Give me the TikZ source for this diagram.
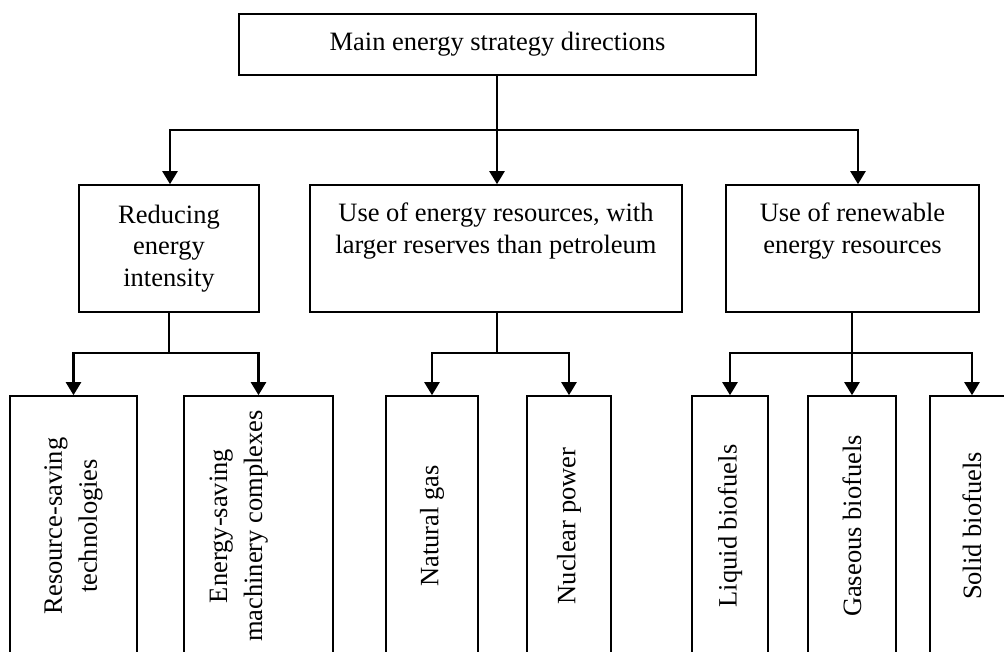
\documentclass[tikz,border=0pt]{standalone}
\usepackage{fontspec}
\setmainfont{Liberation Serif}
\usetikzlibrary{positioning, arrows.meta, calc}
\tikzstyle{box}=[
  rectangle,
  draw=black,
  line width=1.6pt,
  inner sep=0pt,
  align=center,
  font={\fontsize{26.5}{31.5}\selectfont}
]
\tikzstyle{leaf}=[box, rotate=90, minimum width=260pt, font={\fontsize{26.5}{35}\selectfont}]
\tikzstyle{line}=[line width=2.2pt]
\tikzstyle{arr}=[line, -{Triangle[width=15pt,length=13pt]}]

\begin{document}
\begin{tikzpicture}[x=1pt, y=-1pt]

\newcommand\BARY{130}
\newcommand\SUBY{353}
\newcommand\LEAFY{526}

\path[use as bounding box, clip] (0,0) rectangle (1004,651); %% page

\node[box, minimum width=517pt, minimum height=61pt] (main) at (497.5,44.5) {Main energy strategy directions};

%% second row
\node[box, minimum width=180pt, minimum height=127pt] (reduce) at (169,248.5) {Reducing\\energy\\intensity};
\node[box, minimum width=372pt, minimum height=127pt] (reserves) at (496,248.5) {Use of energy resources, with\\larger reserves than petroleum\\\strut};
\node[box, minimum width=253pt, minimum height=127pt] (renew) at (852.5,248.5) {Use of renewable\\energy resources\\\strut};

%% third row
\node[leaf, minimum height=127pt] (tech) at (73.5,\LEAFY) {Resource-saving\\technologies};
\node[leaf, minimum height=149pt] (mach) at (258.5,\LEAFY) {Energy-saving\\machinery complexes\\\strut};
\node[leaf, minimum height=92pt] (gas) at (432,\LEAFY) {Natural gas};
\node[leaf, minimum height=84pt] (nuc) at (569,\LEAFY) {Nuclear power};
\node[leaf, minimum height=76pt] (liq) at (730,\LEAFY) {Liquid biofuels};
\node[leaf, minimum height=88pt] (gfuel) at (852,\LEAFY) {Gaseous biofuels};
\node[leaf, minimum height=84pt] (sol) at (972,\LEAFY) {Solid biofuels};

%% main -> second row
\coordinate (hub) at (497,\BARY);
\draw[line] (main.south -| hub) -- (hub);
\draw[arr] (hub) -| ([xshift=1pt]reduce.north);
\draw[arr] (hub) -- (hub |- reserves.north);
\draw[arr] (hub) -| ([xshift=5.5pt]renew.north);

%% second row -> third row
\coordinate (hubA) at (169,\SUBY);
\draw[line] (reduce.south) -- (hubA);
\draw[arr] (hubA) -| (tech.east);
\draw[arr] (hubA) -| (mach.east);

\coordinate (hubB) at (497,\SUBY);
\draw[line] (reserves.south -| hubB) -- (hubB);
\draw[arr] (hubB) -| (gas.east);
\draw[arr] (hubB) -| (nuc.east);

\coordinate (hubC) at (852,\SUBY);
\draw[line] (renew.south -| hubC) -- (hubC);
\draw[arr] (hubC) -| (liq.east);
\draw[arr] (hubC) -- (gfuel.east);
\draw[arr] (hubC) -| (sol.east);

\end{tikzpicture}
\end{document}
